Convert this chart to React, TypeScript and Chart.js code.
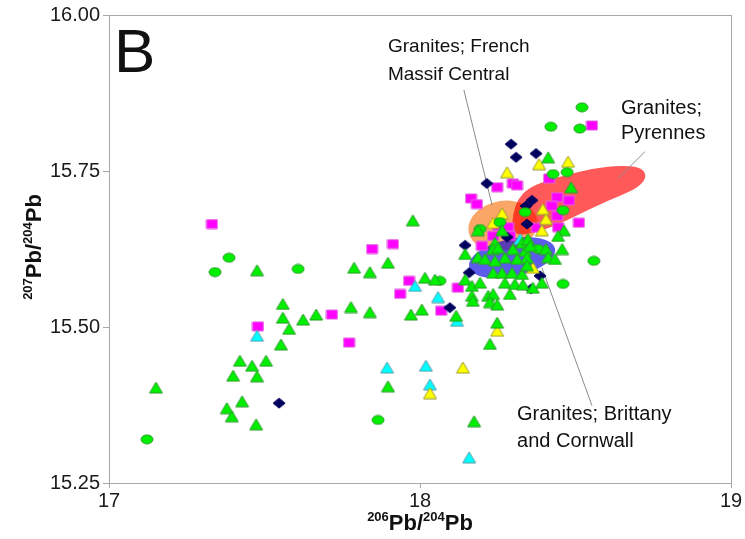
import React, { useEffect, useRef } from "react";
import { Chart, registerables } from "chart.js";

Chart.register(...registerables);

// ---- axes ----
const X_MIN = 17;
const X_MAX = 19;
const X_STEP = 1;
const Y_MIN = 15.25;
const Y_MAX = 16.0;
const Y_STEP = 0.25;

// ---- data: [206Pb/204Pb, 207Pb/204Pb] ----
const greenTriangles: [number, number][] = [
  [17.476, 15.591], [17.421, 15.446], [17.46, 15.438], [17.505, 15.446], [17.399, 15.422],
  [17.476, 15.421], [17.151, 15.403], [17.428, 15.381], [17.379, 15.37], [17.395, 15.357],
  [17.473, 15.344], [17.977, 15.671], [17.788, 15.595], [17.839, 15.588], [17.897, 15.603],
  [18.016, 15.579], [17.559, 15.537], [17.559, 15.515], [17.579, 15.497], [17.624, 15.512],
  [17.666, 15.52], [17.778, 15.532], [17.839, 15.524], [17.971, 15.52], [18.006, 15.528],
  [17.553, 15.472], [17.897, 15.405], [18.048, 15.576], [18.116, 15.518], [18.145, 15.617],
  [18.225, 15.473], [18.174, 15.349], [18.248, 15.507], [18.412, 15.772], [18.486, 15.724],
  [18.186, 15.655], [18.264, 15.655], [18.241, 15.635], [18.328, 15.635], [18.235, 15.625],
  [18.251, 15.627], [18.299, 15.625], [18.338, 15.622], [18.186, 15.612], [18.209, 15.609],
  [18.273, 15.611], [18.312, 15.609], [18.344, 15.611], [18.241, 15.606], [18.235, 15.587],
  [18.264, 15.587], [18.296, 15.587], [18.328, 15.585], [18.145, 15.576], [18.167, 15.566],
  [18.193, 15.571], [18.273, 15.571], [18.305, 15.569], [18.331, 15.568], [18.167, 15.55],
  [18.17, 15.542], [18.219, 15.55], [18.235, 15.553], [18.225, 15.54], [18.248, 15.536],
  [18.289, 15.553], [18.463, 15.655], [18.444, 15.646], [18.347, 15.641], [18.405, 15.625],
  [18.457, 15.625], [18.412, 15.612], [18.434, 15.609], [18.344, 15.599], [18.392, 15.571],
  [18.363, 15.563], [18.354, 15.63],
];

const greenCircles: [number, number][] = [
  [17.386, 15.611], [17.341, 15.588], [17.608, 15.593], [17.122, 15.32], [17.865, 15.351],
  [18.064, 15.574], [18.421, 15.821], [18.514, 15.818], [18.521, 15.852], [18.428, 15.745],
  [18.473, 15.748], [18.338, 15.684], [18.46, 15.687], [18.257, 15.668], [18.193, 15.657],
  [18.379, 15.625], [18.559, 15.606], [18.46, 15.569],
];

const magentaSquares: [number, number][] = [
  [17.331, 15.665], [17.479, 15.501], [17.846, 15.625], [17.913, 15.633], [17.965, 15.574],
  [17.936, 15.553], [17.717, 15.52], [17.772, 15.475], [18.122, 15.563], [18.068, 15.526],
  [18.553, 15.823], [18.248, 15.724], [18.299, 15.73], [18.312, 15.727], [18.164, 15.706],
  [18.183, 15.697], [18.415, 15.738], [18.441, 15.708], [18.479, 15.703], [18.424, 15.694],
  [18.441, 15.678], [18.511, 15.667], [18.376, 15.659], [18.444, 15.66], [18.251, 15.662],
  [18.283, 15.66], [18.235, 15.646], [18.199, 15.63], [18.289, 15.646],
];

const navyDiamonds: [number, number][] = [
  [17.547, 15.378], [18.096, 15.531], [18.145, 15.631], [18.158, 15.587], [18.293, 15.793],
  [18.309, 15.772], [18.373, 15.778], [18.215, 15.73], [18.36, 15.703], [18.341, 15.694],
  [18.344, 15.665], [18.386, 15.582], [18.357, 15.561], [18.28, 15.644],
];

const cyanTriangles: [number, number][] = [
  [17.476, 15.486], [17.984, 15.566], [17.894, 15.435], [18.019, 15.438], [18.032, 15.408],
  [18.058, 15.548], [18.119, 15.51], [18.158, 15.291], [18.322, 15.641],
];

const yellowTriangles: [number, number][] = [
  [18.28, 15.748], [18.383, 15.761], [18.476, 15.765], [18.395, 15.689], [18.264, 15.682],
  [18.235, 15.667], [18.405, 15.673], [18.392, 15.655], [18.248, 15.494], [18.032, 15.394],
  [18.138, 15.435], [18.363, 15.595],
];

// ---- fields (data units) ----
const massifCentralField = { cx: 18.267, cy: 15.662, rx: 0.1125, ry: 0.04, tilt: -10 };
const brittanyField = { cx: 18.296, cy: 15.611, rx: 0.1415, ry: 0.03, tilt: -12 };
const pyreneesOutline: [number, number][] = [
  [18.296, 15.657], [18.299, 15.682], [18.315, 15.705], [18.347, 15.722], [18.402, 15.734],
  [18.466, 15.743], [18.553, 15.754], [18.643, 15.759], [18.707, 15.756], [18.727, 15.746],
  [18.72, 15.732], [18.682, 15.718], [18.601, 15.702], [18.514, 15.681], [18.434, 15.662],
  [18.37, 15.651], [18.315, 15.647],
];

// ---- annotations (data units) ----
const labelFrench = ["Granites; French", "Massif Central"];
const labelFrenchPos: [number, number][] = [[17.897, 15.949], [17.897, 15.904]];
const leaderFrench: [number, number][] = [[18.141, 15.88], [18.232, 15.695]];
const labelPyrenees = ["Granites;", "Pyrennes"];
const labelPyreneesPos: [number, number][] = [[18.646, 15.85], [18.646, 15.81]];
const leaderPyrenees: [number, number][] = [[18.723, 15.781], [18.637, 15.738]];
const labelBrittany = ["Granites; Brittany", "and Cornwall"];
const labelBrittanyPos: [number, number][] = [[18.312, 15.359], [18.312, 15.317]];
const leaderBrittany: [number, number][] = [[18.392, 15.595], [18.553, 15.374]];

const PANEL = "B";
const X_TITLE = [["206", true], ["Pb/", false], ["204", true], ["Pb", false]] as [string, boolean][];
const Y_TITLE = [["207", true], ["Pb/", false], ["204", true], ["Pb", false]] as [string, boolean][];

const FONT = '"Liberation Sans", Arial, sans-serif';

function makeMarker(kind: string, w: number, h: number, fill: string, stroke: string) {
  const c = document.createElement("canvas");
  c.width = w + 2;
  c.height = h + 2;
  const g = c.getContext("2d")!;
  g.fillStyle = fill;
  g.strokeStyle = stroke;
  g.lineWidth = 1;
  g.beginPath();
  const x0 = 1, y0 = 1;
  if (kind === "tri") {
    g.moveTo(x0 + w / 2, y0);
    g.lineTo(x0 + w, y0 + h);
    g.lineTo(x0, y0 + h);
    g.closePath();
  } else if (kind === "ellipse") {
    g.ellipse(x0 + w / 2, y0 + h / 2, w / 2, h / 2, 0, 0, Math.PI * 2);
  } else if (kind === "rect") {
    g.rect(x0, y0, w, h);
  } else {
    g.moveTo(x0 + w / 2, y0);
    g.lineTo(x0 + w, y0 + h / 2);
    g.lineTo(x0 + w / 2, y0 + h);
    g.lineTo(x0, y0 + h / 2);
    g.closePath();
  }
  g.fill();
  g.stroke();
  return c;
}

function drawField(ctx: CanvasRenderingContext2D, xs: any, ys: any, f: any, color: string) {
  const cx = xs.getPixelForValue(f.cx);
  const cy = ys.getPixelForValue(f.cy);
  const rx = Math.abs(xs.getPixelForValue(f.cx + f.rx) - cx);
  const ry = Math.abs(ys.getPixelForValue(f.cy + f.ry) - cy);
  ctx.beginPath();
  ctx.ellipse(cx, cy, rx, ry, (f.tilt * Math.PI) / 180, 0, Math.PI * 2);
  ctx.fillStyle = color;
  ctx.fill();
}

function drawSupText(ctx: CanvasRenderingContext2D, parts: [string, boolean][], cx: number, by: number) {
  const main = `bold 22px ${FONT}`;
  const sup = `bold 13px ${FONT}`;
  let total = 0;
  for (const [t, s] of parts) {
    ctx.font = s ? sup : main;
    total += ctx.measureText(t).width;
  }
  let x = cx - total / 2;
  ctx.textAlign = "left";
  ctx.textBaseline = "alphabetic";
  for (const [t, s] of parts) {
    ctx.font = s ? sup : main;
    ctx.fillText(t, x, s ? by - 9 : by);
    x += ctx.measureText(t).width;
  }
}

const overlayPlugin = {
  id: "overlay",
  beforeDatasetsDraw(chart: any) {
    const { ctx, chartArea: a, scales } = chart;
    const xs = scales.x, ys = scales.y;
    ctx.save();
    ctx.beginPath();
    ctx.rect(a.left, a.top, a.right - a.left, a.bottom - a.top);
    ctx.clip();
    drawField(ctx, xs, ys, massifCentralField, "rgb(249,166,102)");
    const pts = pyreneesOutline.map(([vx, vy]) => [xs.getPixelForValue(vx), ys.getPixelForValue(vy)]);
    const n = pts.length;
    const mid = (p: number[], q: number[]) => [(p[0] + q[0]) / 2, (p[1] + q[1]) / 2];
    ctx.beginPath();
    const m0 = mid(pts[n - 1], pts[0]);
    ctx.moveTo(m0[0], m0[1]);
    for (let i = 0; i < n; i++) {
      const m = mid(pts[i], pts[(i + 1) % n]);
      ctx.quadraticCurveTo(pts[i][0], pts[i][1], m[0], m[1]);
    }
    ctx.closePath();
    ctx.fillStyle = "rgba(255,0,0,0.65)";
    ctx.fill();
    drawField(ctx, xs, ys, brittanyField, "rgba(0,0,225,0.64)");
    ctx.strokeStyle = "#8a8a8a";
    ctx.lineWidth = 1;
    for (const seg of [leaderFrench, leaderPyrenees, leaderBrittany]) {
      ctx.beginPath();
      ctx.moveTo(xs.getPixelForValue(seg[0][0]), ys.getPixelForValue(seg[0][1]));
      ctx.lineTo(xs.getPixelForValue(seg[1][0]), ys.getPixelForValue(seg[1][1]));
      ctx.stroke();
    }
    ctx.restore();
  },
  afterDraw(chart: any) {
    const { ctx, chartArea: a, scales } = chart;
    const xs = scales.x, ys = scales.y;
    ctx.save();
    // frame
    ctx.strokeStyle = "#a8a8a8";
    ctx.lineWidth = 1;
    ctx.strokeRect(Math.round(a.left) + 0.5, Math.round(a.top) + 0.5, Math.round(a.right - a.left), Math.round(a.bottom - a.top));
    // labels
    ctx.fillStyle = "#111";
    ctx.textAlign = "left";
    ctx.textBaseline = "middle";
    const groups: [string[], [number, number][], number][] = [
      [labelFrench, labelFrenchPos, 19],
      [labelPyrenees, labelPyreneesPos, 20],
      [labelBrittany, labelBrittanyPos, 20],
    ];
    for (const [texts, pos, size] of groups) {
      ctx.font = `${size}px ${FONT}`;
      texts.forEach((t, i) => {
        ctx.fillText(t, xs.getPixelForValue(pos[i][0]), ys.getPixelForValue(pos[i][1]));
      });
    }
    // panel letter
    ctx.font = `62px ${FONT}`;
    ctx.textBaseline = "alphabetic";
    ctx.fillText(PANEL, a.left + 5, a.top + 57);
    // axis titles
    ctx.fillStyle = "#111";
    drawSupText(ctx, X_TITLE, (a.left + a.right) / 2, 530);
    ctx.translate(41, (a.top + a.bottom) / 2 - 2);
    ctx.rotate(-Math.PI / 2);
    drawSupText(ctx, Y_TITLE, 0, 0);
    ctx.restore();
  },
};

export default function App() {
  const ref = useRef<HTMLCanvasElement | null>(null);
  useEffect(() => {
    document.body.style.margin = "0";
    const canvas = ref.current!;
    const tri = (f: string, s: string) => makeMarker("tri", 13, 11, f, s);
    const toPts = (arr: [number, number][]) => arr.map(([x, y]) => ({ x, y }));
    const ds = (arr: [number, number][], style: any, label: string) => ({
      label,
      data: toPts(arr),
      pointStyle: style,
      pointRadius: 6,
      pointHoverRadius: 6,
      showLine: false,
    });
    const chart = new Chart(canvas, {
      type: "scatter",
      data: {
        datasets: [
          ds(greenTriangles, tri("#00f000", "#2f9a2f"), "green triangles"),
          ds(greenCircles, makeMarker("ellipse", 12, 9, "#00f000", "#2f9a2f"), "green circles"),
          ds(yellowTriangles, tri("#ffff00", "#9a9a30"), "yellow triangles"),
          ds(cyanTriangles, tri("#00ffff", "#5a9aaa"), "cyan triangles"),
          ds(navyDiamonds, makeMarker("diamond", 12, 10, "#00005e", "#00005e"), "navy diamonds"),
          ds(magentaSquares, makeMarker("rect", 11, 9, "#ff00ff", "#e060e0"), "magenta squares"),
        ],
      },
      options: {
        responsive: false,
        animation: false,
        events: [],
        layout: { padding: { top: 13, right: 14, left: 0, bottom: 0 } },
        plugins: { legend: { display: false }, tooltip: { enabled: false } },
        scales: {
          x: {
            type: "linear",
            min: X_MIN,
            max: X_MAX,
            afterFit: (s: any) => { s.height = 56; },
            ticks: { stepSize: X_STEP, color: "#1a1a1a", font: { family: FONT, size: 20 }, padding: 1, maxRotation: 0 },
            grid: { display: true, drawOnChartArea: false, drawTicks: true, tickLength: 5, color: "#a8a8a8" },
            border: { display: false },
          },
          y: {
            type: "linear",
            min: Y_MIN,
            max: Y_MAX,
            afterFit: (s: any) => { s.width = 109; },
            ticks: {
              stepSize: Y_STEP,
              color: "#1a1a1a",
              font: { family: FONT, size: 20 },
              padding: 3,
              callback: (v: any) => Number(v).toFixed(2),
            },
            grid: { display: true, drawOnChartArea: false, drawTicks: true, tickLength: 6, color: "#a8a8a8" },
            border: { display: false },
          },
        },
      },
      plugins: [overlayPlugin],
    } as any);
    return () => chart.destroy();
  }, []);
  return (
    <div style={{ position: "fixed", left: 0, top: 0, width: 745, height: 539, background: "#fff" }}>
      <canvas ref={ref} width={745} height={539} style={{ display: "block" }} />
    </div>
  );
}
